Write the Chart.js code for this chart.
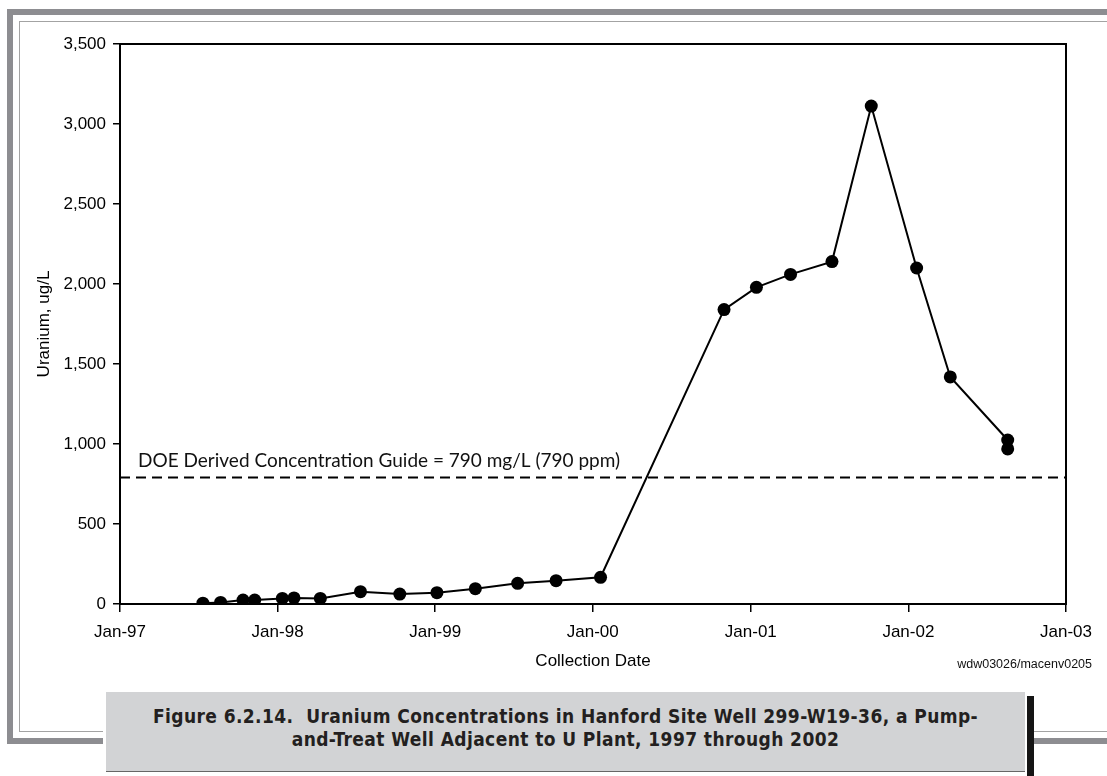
<!DOCTYPE html>
<html>
<head>
<meta charset="utf-8">
<script src="https://cdn.jsdelivr.net/npm/chart.js@4.4.0/dist/chart.umd.min.js"></script>
<style>
  html, body { margin: 0; padding: 0; background: #fff; }
  body { width: 1107px; height: 776px; position: relative; overflow: hidden; }
  .bar { position: absolute; background: #8d8d91; }
  .thin { position: absolute; background: #a3a3a3; }
  #chartBox { position: absolute; left: 0; top: 0; width: 1107px; height: 692px; }
  #caption {
    position: absolute; left: 106px; top: 692px; width: 919px; height: 80px;
    background: #d2d3d5; border-bottom: 1px solid #666;
    font-family: "DejaVu Sans Condensed", "DejaVu Sans", sans-serif; font-weight: bold;
    font-size: 19px; letter-spacing: 0.4px; line-height: 23px; color: #231f20; text-align: center;
    box-sizing: border-box; padding-top: 13px;
  }
  #capEdge { position: absolute; left: 1027px; top: 696px; width: 7px; height: 80px; background: #151515; }
</style>
</head>
<body>
<div class="bar" style="left:7px;top:9px;width:1100px;height:6px"></div>
<div class="bar" style="left:7px;top:9px;width:6px;height:735px"></div>
<div class="bar" style="left:7px;top:738px;width:96px;height:6px"></div>
<div class="bar" style="left:1034px;top:738px;width:73px;height:6px"></div>
<div class="thin" style="left:19px;top:21px;width:1088px;height:1px"></div>
<div class="thin" style="left:19px;top:21px;width:1px;height:711px"></div>
<div class="thin" style="left:19px;top:731px;width:84px;height:1px"></div>
<div class="thin" style="left:1034px;top:731px;width:73px;height:1px"></div>

<div id="chartBox"><canvas id="uraniumChart"></canvas></div>

<div id="caption">Figure 6.2.14.&nbsp; Uranium Concentrations in Hanford Site Well 299-W19-36, a Pump-<br>and-Treat Well Adjacent to U Plant, 1997 through 2002</div>
<div id="capEdge"></div>

<script>
// sample dates and uranium values (ug/L)
const sampleDates = [
  '1997-07-12', '1997-08-22', '1997-10-13', '1997-11-09', '1998-01-12', '1998-02-08',
  '1998-04-10', '1998-07-12', '1998-10-11', '1999-01-05', '1999-04-04', '1999-07-11',
  '1999-10-08', '2000-01-19', '2000-10-31', '2001-01-14', '2001-04-03', '2001-07-08',
  '2001-10-07', '2002-01-20', '2002-04-08', '2002-08-19', '2002-08-19'
];
const uranium = [
  5, 10, 25, 25, 35, 38,
  35, 77, 62, 71, 96, 129,
  146, 167, 1840, 1979, 2060, 2140,
  3112, 2100, 1419, 1025, 969
];
const tickYears = [1997, 1998, 1999, 2000, 2001, 2002, 2003];
const guideValue = 790;
const guideText = 'DOE Derived Concentration Guide = 790 mg/L (790 ppm)';
const xTitle = 'Collection Date';
const yTitle = 'Uranium, ug/L';
const sourceTag = 'wdw03026/macenv0205';

const toTime = s => Date.parse(s + 'T00:00:00Z');
const jan1 = y => Date.UTC(y, 0, 1);
const xMin = jan1(tickYears[0]);
const xMax = jan1(tickYears[tickYears.length - 1]);

const points = sampleDates.map((d, i) => ({ x: toTime(d), y: uranium[i] }));

const axisFont = { family: 'Liberation Sans, Arial, sans-serif', size: 17 };

// frame around plot, guide label and source tag
const extras = {
  id: 'extras',
  afterDraw(chart) {
    const { ctx, chartArea: a, scales } = chart;
    ctx.save();
    ctx.strokeStyle = '#000';
    ctx.lineWidth = 2;
    ctx.strokeRect(a.left, a.top, a.right - a.left, a.bottom - a.top);

    const gy = scales.y.getPixelForValue(guideValue);
    ctx.fillStyle = '#111';
    ctx.font = '19px Lato, "Open Sans", sans-serif';
    ctx.textAlign = 'left';
    ctx.textBaseline = 'alphabetic';
    ctx.fillText(guideText, a.left + 18, gy - 11);

    ctx.font = '12.5px "Liberation Sans", Arial, sans-serif';
    ctx.textAlign = 'right';
    ctx.textBaseline = 'middle';
    ctx.fillText(sourceTag, 1092, 665);
    ctx.restore();
  }
};

new Chart(document.getElementById('uraniumChart').getContext('2d'), {
  type: 'line',
  data: {
    datasets: [
      {
        label: 'Uranium',
        data: points,
        borderColor: '#000',
        backgroundColor: '#000',
        borderWidth: 2,
        pointRadius: 6.5,
        pointBackgroundColor: '#000',
        pointBorderWidth: 0,
        tension: 0
      },
      {
        label: 'DCG',
        data: [{ x: xMin, y: guideValue }, { x: xMax, y: guideValue }],
        borderColor: '#000',
        borderWidth: 2,
        borderDash: [10, 6],
        pointRadius: 0
      }
    ]
  },
  plugins: [extras],
  options: {
    responsive: true,
    maintainAspectRatio: false,
    animation: false,
    layout: { padding: { top: 44, right: 41, left: 0, bottom: 0 } },
    plugins: { legend: { display: false }, tooltip: { enabled: false } },
    scales: {
      x: {
        type: 'linear',
        min: xMin,
        max: xMax,
        afterBuildTicks: axis => { axis.ticks = tickYears.map(y => ({ value: jan1(y) })); },
        afterFit: axis => { axis.height = 88; },
        ticks: {
          color: '#000',
          font: axisFont,
          padding: 10,
          maxRotation: 0,
          autoSkip: false,
          callback: v => 'Jan-' + String(new Date(v).getUTCFullYear()).slice(2)
        },
        grid: { drawOnChartArea: false, drawTicks: true, tickLength: 8, color: '#000', lineWidth: 1.5 },
        border: { display: true, color: '#000', width: 2 },
        title: { display: true, text: xTitle, color: '#000', font: axisFont, padding: { top: 0, bottom: 20 } }
      },
      y: {
        min: 0,
        max: 3500,
        afterFit: axis => { axis.width = 120; },
        ticks: {
          stepSize: 500,
          color: '#000',
          font: axisFont,
          padding: 7,
          callback: v => v.toLocaleString('en-US')
        },
        grid: { drawOnChartArea: false, drawTicks: true, tickLength: 7, color: '#000', lineWidth: 1.5 },
        border: { display: true, color: '#000', width: 2 },
        title: { display: true, text: yTitle, color: '#000', font: axisFont, padding: { top: 34, bottom: 0 } }
      }
    }
  }
});
</script>
</body>
</html>
